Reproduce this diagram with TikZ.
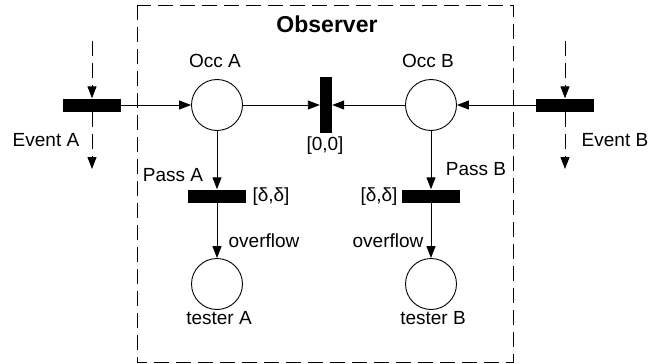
\documentclass[tikz,border=0pt]{standalone}
\usepackage{fontspec}
\setmainfont{Liberation Sans}
\usetikzlibrary{arrows.meta}
\begin{document}
\begin{tikzpicture}[x=1pt,y=-1pt,
  place/.style={circle, draw, line width=0.9pt, minimum size=51pt, inner sep=0pt},
  hbar/.style={fill=black, minimum width=58pt, minimum height=13pt, inner sep=0pt},
  vbar/.style={fill=black, minimum width=12pt, minimum height=56pt, inner sep=0pt},
  arc/.style={-{Triangle[length=12pt,width=9pt]}, line width=0.9pt},
  darc/.style={arc, dash pattern=on 15pt off 7pt},
  lbl/.style={font=\fontsize{19}{21}\selectfont, inner sep=0pt, text height=0.72em, text depth=0pt},
  ttl/.style={font=\fontsize{23}{25}\selectfont\bfseries, inner sep=0pt, text height=0.72em, text depth=0pt},
  frame/.style={draw, line width=0.9pt, dash pattern=on 15pt off 7pt}]
\useasboundingbox (0,0) rectangle (649,364);

% observer frame
\draw[frame] (137,5) rectangle (513,362);
\node[ttl] (obs) at (327,29) {Observer};

% places
\node[place] (occA) at (217,105) {};
\node[place] (occB) at (431,105) {};
\node[place] (testA) at (217,284) {};
\node[place] (testB) at (431,284) {};

% transitions
\node[hbar] (evA) at (92,105) {};
\node[hbar] (evB) at (565,105) {};
\node[vbar] (zero) at (326,105) {};
\node[hbar] (passA) at (217,196) {};
\node[hbar] (passB) at (431,196) {};

% free ends of the event arcs
\coordinate (evAin) at (92,41);
\coordinate (evAout) at (92,169);
\coordinate (evBin) at (565,41);
\coordinate (evBout) at (565,169);

% labels
\node[lbl] (lOccA) at (215,64) {Occ A};
\node[lbl] (lOccB) at (428,64) {Occ B};
\node[lbl] (lzero) at (325,147) {[0,0]};
\node[lbl] (lEvA) at (46,143) {Event A};
\node[lbl] (lEvB) at (615,143) {Event B};
\node[lbl] (lPassA) at (173,178) {Pass A};
\node[lbl] (lPassB) at (476,172) {Pass B};
\node[lbl] (ldA) at (271,198) {[δ,δ]};
\node[lbl] (ldB) at (379,198) {[δ,δ]};
\node[lbl] (lovA) at (264,244) {overflow};
\node[lbl] (lovB) at (388,244) {overflow};
\node[lbl] (ltA) at (219,321) {tester A};
\node[lbl] (ltB) at (433,321) {tester B};

% arcs
\draw[darc] (evAin) -- (evA.north);
\draw[darc] (evA.south) -- (evAout);
\draw[darc] (evBin) -- (evB.north);
\draw[darc] (evB.south) -- (evBout);
\draw[arc] (evA.east) -- (occA.west);
\draw[arc] (evB.west) -- (occB.east);
\draw[arc] (occA.east) -- (zero.west);
\draw[arc] (occB.west) -- (zero.east);
\draw[arc] (occA.south) -- (passA.north);
\draw[arc] (occB.south) -- (passB.north);
\draw[arc] (passA.south) -- (testA.north);
\draw[arc] (passB.south) -- (testB.north);
\end{tikzpicture}
\end{document}
